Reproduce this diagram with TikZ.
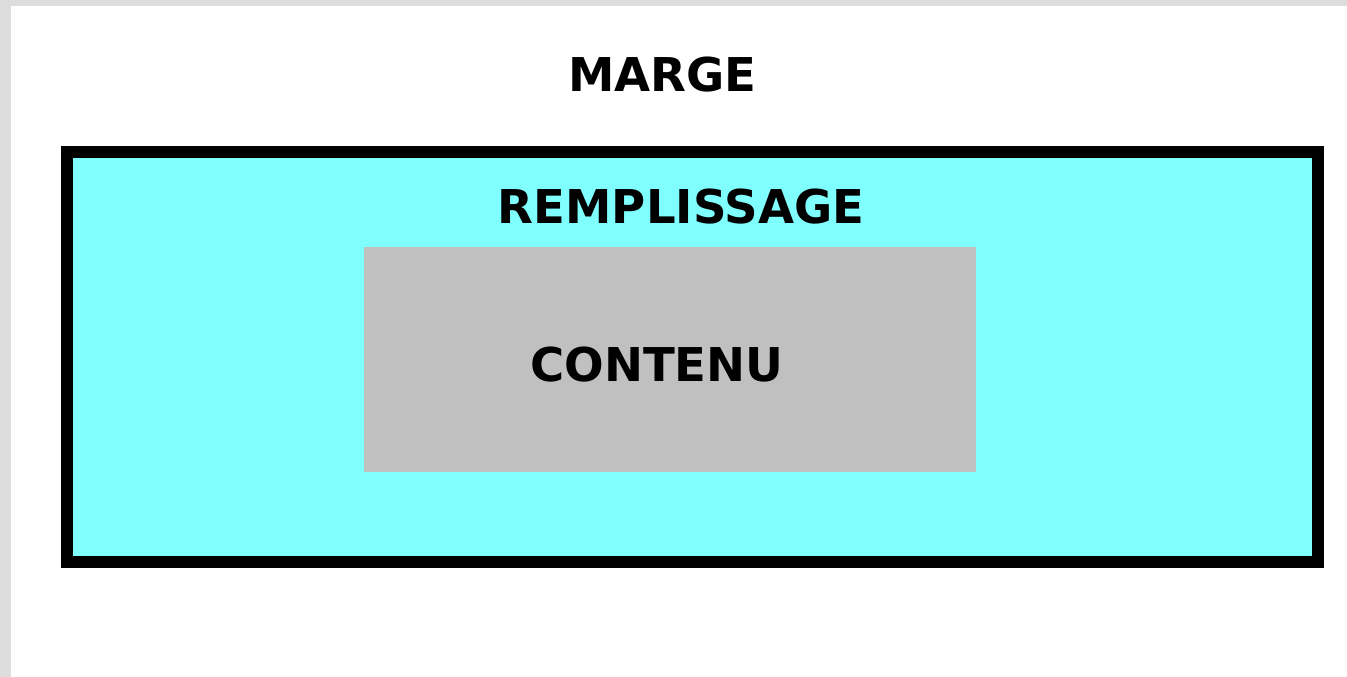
\documentclass[tikz,border=0pt]{standalone}
\usepackage{fontspec}
\setmainfont{DejaVu Sans}
\definecolor{pagegray}{HTML}{DDDDDD}
\definecolor{padcyan}{HTML}{80FFFF}
\definecolor{contgray}{HTML}{C0C0C0}
\begin{document}
\begin{tikzpicture}[x=1pt,y=-1pt,
  lbl/.style={anchor=base,inner sep=0pt,font=\fontsize{46.6}{50}\selectfont\bfseries}]
\useasboundingbox (0,0) rectangle (1347,677);
\fill[pagegray] (0,0) rectangle (1347,677);
\fill[white] (11,6) rectangle (1347,677);
% border box
\fill[black] (61,146) rectangle (1324,568);
\fill[padcyan] (73,158) rectangle (1312,556);
% content box
\fill[contgray] (364,247) rectangle (976,472);
\node[lbl] (marge) at (662.5,92) {MARGE};
\node[lbl] (remp) at (681,223) {REMPLISSAGE};
\node[lbl] (cont) at (657,381) {CONTENU};
\end{tikzpicture}
\end{document}
